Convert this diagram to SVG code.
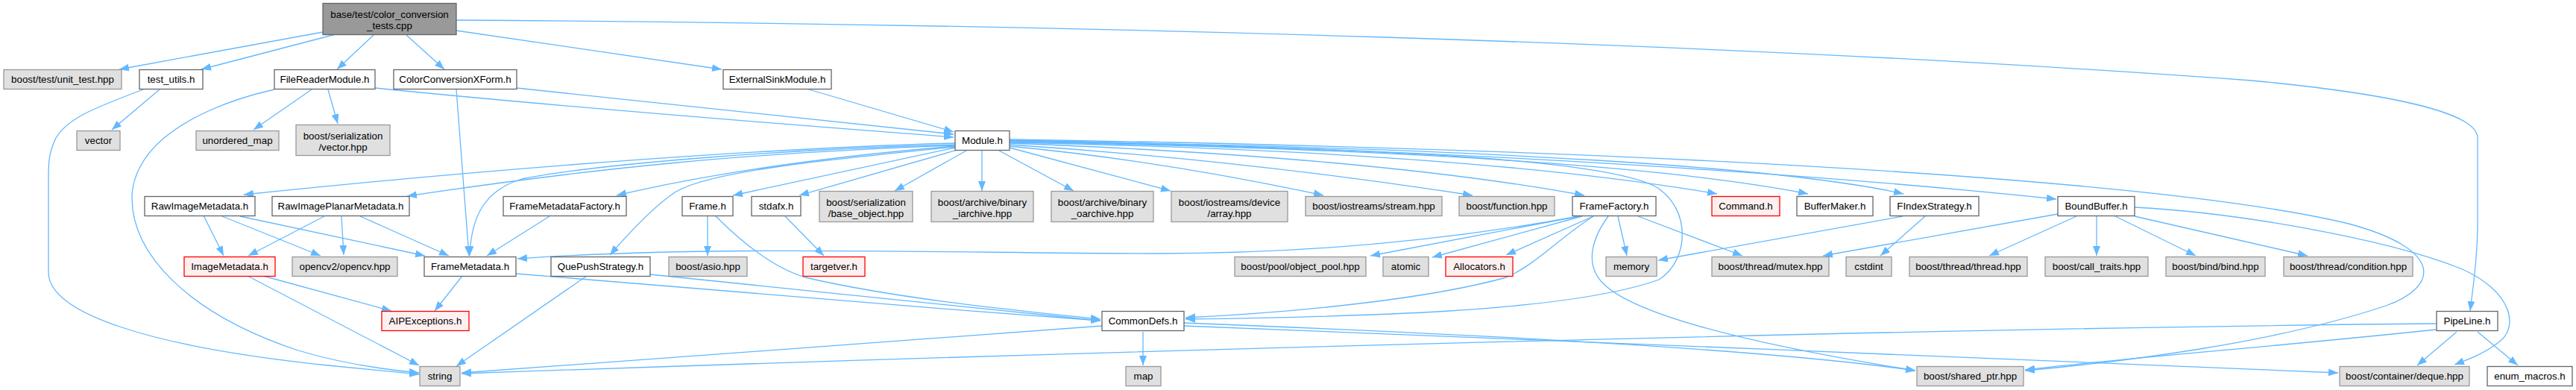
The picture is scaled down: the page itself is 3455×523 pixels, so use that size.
<svg xmlns="http://www.w3.org/2000/svg" width="3455" height="523" viewBox="0 0 3455 523">
<style>
.n{fill:#ffffff;stroke:#666666;stroke-width:1.3}
.g{fill:#e0e0e0;stroke:#999999;stroke-width:1.3}
.r{fill:#fff0f0;stroke:#ff0000;stroke-width:1.3}
.k{fill:#999999;stroke:#666666;stroke-width:1.3}
text{font-family:"Liberation Sans",Arial,Helvetica,sans-serif;font-size:13.33px;fill:#000;text-anchor:middle}
.e path{fill:none;stroke:#63b8ff;stroke-width:1.3;marker-end:url(#a)}
</style>
<defs>
<marker id="a" viewBox="0 0 13 10" refX="13" refY="5" markerWidth="13" markerHeight="10" markerUnits="userSpaceOnUse" orient="auto"><path d="M0,0L13,5L0,10z" fill="#63b8ff"/></marker>
</defs>
<rect width="3455" height="523" fill="#ffffff"/>
<g class="e" id="edges">
<path d="M433,43 L160,93"/>
<path d="M450,46 L270,93"/>
<path d="M501,47 L452,93"/>
<path d="M545,47 L596,93"/>
<path d="M612,41 L968,93"/>
<path d="M612,27 C1400,32 2300,55 3020,108 C3200,125 3323,150 3323,185 L3323,300 C3323,350 3316,390 3313,417"/>
<path d="M214,120 L150,174"/>
<path d="M192,120 C120,147 90,160 75,185 C65,205 65,220 65,240 L65,365 C65,420 200,465 440,490 C500,496 530,499 562,502"/>
<path d="M418,120 L340,174"/>
<path d="M440,120 L453,166"/>
<path d="M503,118 C800,148 1100,170 1279,184"/>
<path d="M368,120 C300,135 250,160 220,185 C190,210 177,240 177,265 C177,340 250,420 400,470 C460,488 520,496 562,500"/>
<path d="M693,118 L1279,180"/>
<path d="M612,120 L629,343"/>
<path d="M1085,120 L1279,177"/>
<path d="M1281,192 C1050,198 700,222 327,261"/>
<path d="M1281,194 C1050,200 800,220 700,240 C650,255 632,290 630,343"/>
<path d="M1281,195 C1000,205 800,225 546,263"/>
<path d="M1281,196 C1050,215 900,245 827,262"/>
<path d="M1281,197 C1100,215 950,230 905,258 C880,275 850,305 818,342"/>
<path d="M1281,198 L983,262"/>
<path d="M1284,201 L1072,262"/>
<path d="M1296,202 L1200,256"/>
<path d="M1317,202 L1317,256"/>
<path d="M1340,202 L1440,256"/>
<path d="M1354,198 L1570,256"/>
<path d="M1354,196 C1500,210 1650,235 1775,262"/>
<path d="M1354,194 C1600,210 1800,235 1975,262"/>
<path d="M1354,192 C1700,205 1950,230 2125,262"/>
<path d="M1354,191 C1800,200 2100,225 2303,260"/>
<path d="M1354,190 C1900,200 2250,225 2425,260"/>
<path d="M1354,189 C2000,198 2400,225 2553,260"/>
<path d="M1354,188 C2000,200 2500,240 2758,267"/>
<path d="M1354,187 C2200,200 2900,240 3150,300 C3280,335 3270,385 3200,410 C3050,460 2850,485 2716,497"/>
<path d="M1354,189 C1900,200 2150,215 2220,250 C2270,280 2265,350 2225,375 C2100,420 1800,425 1590,428"/>
<path d="M2137,290 C2090,320 2060,355 2020,372 C1920,400 1750,418 1590,426"/>
<path d="M2157,290 C2135,320 2125,355 2150,380 C2200,430 2400,470 2569,497"/>
<path d="M2118,290 C1900,330 1700,340 1550,340 C1300,340 950,328 694,347"/>
<path d="M2118,290 L1838,343"/>
<path d="M2122,290 L1921,345"/>
<path d="M2137,290 L2020,342"/>
<path d="M2170,290 L2182,343"/>
<path d="M2197,290 L2337,343"/>
<path d="M2552,290 L2224,349"/>
<path d="M2582,290 L2522,343"/>
<path d="M2760,287 L2445,343"/>
<path d="M2785,290 L2668,343"/>
<path d="M2812,290 L2812,343"/>
<path d="M2837,290 L2945,343"/>
<path d="M2863,290 L3095,343"/>
<path d="M2863,278 C3000,285 3200,320 3300,360 C3370,390 3380,440 3350,460 C3330,475 3310,482 3292,489"/>
<path d="M3295,445 L3242,490"/>
<path d="M3323,445 L3377,490"/>
<path d="M3267,442 C3050,465 2850,480 2716,496"/>
<path d="M3267,434 C2600,440 1500,470 619,501"/>
<path d="M1478,437 C1200,455 900,482 619,500"/>
<path d="M1533,445 L1533,490"/>
<path d="M1588,433 C1900,445 2350,465 2569,497"/>
<path d="M1588,437 C2000,455 2700,480 3136,500"/>
<path d="M960,290 C1000,330 1040,360 1080,372 C1200,400 1350,415 1476,428"/>
<path d="M692,367 C900,385 1200,410 1476,430"/>
<path d="M872,368 C1100,390 1300,412 1476,430"/>
<path d="M787,370 L612,491"/>
<path d="M620,370 L583,417"/>
<path d="M353,370 L525,417"/>
<path d="M332,370 L562,490"/>
<path d="M273,289 L300,343"/>
<path d="M298,290 L430,343"/>
<path d="M322,290 L570,343"/>
<path d="M435,290 L333,343"/>
<path d="M458,290 L461,342"/>
<path d="M483,290 L602,343"/>
<path d="M737,290 L653,343"/>
<path d="M949,290 L949,343"/>
<path d="M1053,290 L1105,343"/>
</g>
<g id="root"><rect class="k" x="433" y="4.5" width="179" height="42"/><text x="522.5" y="23.5">base/test/color_conversion</text><text x="522.5" y="38.5">_tests.cpp</text></g>
<g id="unit_test"><rect class="g" x="5" y="93.5" width="158" height="26"/><text x="84" y="111">boost/test/unit_test.hpp</text></g>
<g id="test_utils"><rect class="n" x="187" y="93.5" width="85" height="26"/><text x="229.5" y="111">test_utils.h</text></g>
<g id="FileReaderModule"><rect class="n" x="368" y="93.5" width="135" height="26"/><text x="435.5" y="111">FileReaderModule.h</text></g>
<g id="ColorConversionXForm"><rect class="n" x="528" y="93.5" width="165" height="26"/><text x="610.5" y="111">ColorConversionXForm.h</text></g>
<g id="ExternalSinkModule"><rect class="n" x="970" y="93.5" width="145" height="26"/><text x="1042.5" y="111">ExternalSinkModule.h</text></g>
<g id="vector"><rect class="g" x="103" y="175.5" width="58" height="26"/><text x="132" y="193">vector</text></g>
<g id="unordered_map"><rect class="g" x="263" y="175.5" width="111" height="26"/><text x="318.5" y="193">unordered_map</text></g>
<g id="ser_vector"><rect class="g" x="397" y="167.5" width="126" height="41"/><text x="460" y="186.5">boost/serialization</text><text x="460" y="201.5">/vector.hpp</text></g>
<g id="Module"><rect class="n" x="1281" y="175.5" width="73" height="26"/><text x="1317.5" y="193">Module.h</text></g>
<g id="RawImageMetadata"><rect class="n" x="194" y="263.5" width="148" height="26"/><text x="268" y="281">RawImageMetadata.h</text></g>
<g id="RawImagePlanarMetadata"><rect class="n" x="365" y="263.5" width="184" height="26"/><text x="457" y="281">RawImagePlanarMetadata.h</text></g>
<g id="FrameMetadataFactory"><rect class="n" x="675" y="263.5" width="165" height="26"/><text x="757.5" y="281">FrameMetadataFactory.h</text></g>
<g id="Frame"><rect class="n" x="915" y="263.5" width="68" height="26"/><text x="949" y="281">Frame.h</text></g>
<g id="stdafx"><rect class="n" x="1008" y="263.5" width="66" height="26"/><text x="1041" y="281">stdafx.h</text></g>
<g id="base_object"><rect class="g" x="1099" y="256.5" width="125" height="41"/><text x="1161.5" y="275.5">boost/serialization</text><text x="1161.5" y="290.5">/base_object.hpp</text></g>
<g id="binary_iarchive"><rect class="g" x="1249" y="256.5" width="137" height="41"/><text x="1317.5" y="275.5">boost/archive/binary</text><text x="1317.5" y="290.5">_iarchive.hpp</text></g>
<g id="binary_oarchive"><rect class="g" x="1410" y="256.5" width="137" height="41"/><text x="1478.5" y="275.5">boost/archive/binary</text><text x="1478.5" y="290.5">_oarchive.hpp</text></g>
<g id="device_array"><rect class="g" x="1571" y="256.5" width="156" height="41"/><text x="1649" y="275.5">boost/iostreams/device</text><text x="1649" y="290.5">/array.hpp</text></g>
<g id="stream"><rect class="g" x="1751" y="263.5" width="183" height="26"/><text x="1842.5" y="281">boost/iostreams/stream.hpp</text></g>
<g id="function"><rect class="g" x="1957" y="263.5" width="128" height="26"/><text x="2021" y="281">boost/function.hpp</text></g>
<g id="FrameFactory"><rect class="n" x="2109" y="263.5" width="112" height="26"/><text x="2165" y="281">FrameFactory.h</text></g>
<g id="Command"><rect class="r" x="2296" y="263.5" width="91" height="26"/><text x="2341.5" y="281">Command.h</text></g>
<g id="BufferMaker"><rect class="n" x="2410" y="263.5" width="102" height="26"/><text x="2461" y="281">BufferMaker.h</text></g>
<g id="FIndexStrategy"><rect class="n" x="2535" y="263.5" width="119" height="26"/><text x="2594.5" y="281">FIndexStrategy.h</text></g>
<g id="BoundBuffer"><rect class="n" x="2760" y="263.5" width="103" height="26"/><text x="2811.5" y="281">BoundBuffer.h</text></g>
<g id="ImageMetadata"><rect class="r" x="247" y="344.5" width="122" height="26"/><text x="308" y="362">ImageMetadata.h</text></g>
<g id="opencv"><rect class="g" x="392" y="344.5" width="141" height="26"/><text x="462.5" y="362">opencv2/opencv.hpp</text></g>
<g id="FrameMetadata"><rect class="n" x="569" y="344.5" width="123" height="26"/><text x="630.5" y="362">FrameMetadata.h</text></g>
<g id="QuePushStrategy"><rect class="n" x="739" y="344.5" width="133" height="26"/><text x="805.5" y="362">QuePushStrategy.h</text></g>
<g id="asio"><rect class="g" x="897" y="344.5" width="105" height="26"/><text x="949.5" y="362">boost/asio.hpp</text></g>
<g id="targetver"><rect class="r" x="1077" y="344.5" width="83" height="26"/><text x="1118.5" y="362">targetver.h</text></g>
<g id="object_pool"><rect class="g" x="1656" y="344.5" width="176" height="26"/><text x="1744" y="362">boost/pool/object_pool.hpp</text></g>
<g id="atomic"><rect class="g" x="1855" y="344.5" width="61" height="26"/><text x="1885.5" y="362">atomic</text></g>
<g id="Allocators"><rect class="r" x="1939" y="344.5" width="90" height="26"/><text x="1984" y="362">Allocators.h</text></g>
<g id="memory"><rect class="g" x="2154" y="344.5" width="68" height="26"/><text x="2188" y="362">memory</text></g>
<g id="mutex"><rect class="g" x="2296" y="344.5" width="157" height="26"/><text x="2374.5" y="362">boost/thread/mutex.hpp</text></g>
<g id="cstdint"><rect class="g" x="2476" y="344.5" width="61" height="26"/><text x="2506.5" y="362">cstdint</text></g>
<g id="thread"><rect class="g" x="2561" y="344.5" width="158" height="26"/><text x="2640" y="362">boost/thread/thread.hpp</text></g>
<g id="call_traits"><rect class="g" x="2743" y="344.5" width="138" height="26"/><text x="2812" y="362">boost/call_traits.hpp</text></g>
<g id="bind"><rect class="g" x="2905" y="344.5" width="133" height="26"/><text x="2971.5" y="362">boost/bind/bind.hpp</text></g>
<g id="condition"><rect class="g" x="3063" y="344.5" width="173" height="26"/><text x="3149.5" y="362">boost/thread/condition.hpp</text></g>
<g id="AIPExceptions"><rect class="r" x="512" y="417.5" width="117" height="26"/><text x="570.5" y="435">AIPExceptions.h</text></g>
<g id="CommonDefs"><rect class="n" x="1478" y="417.5" width="110" height="26"/><text x="1533" y="435">CommonDefs.h</text></g>
<g id="PipeLine"><rect class="n" x="3268" y="417.5" width="82" height="26"/><text x="3309" y="435">PipeLine.h</text></g>
<g id="string"><rect class="g" x="563" y="491.5" width="54" height="26"/><text x="590" y="509">string</text></g>
<g id="map"><rect class="g" x="1510" y="491.5" width="47" height="26"/><text x="1533.5" y="509">map</text></g>
<g id="shared_ptr"><rect class="g" x="2571" y="491.5" width="143" height="26"/><text x="2642.5" y="509">boost/shared_ptr.hpp</text></g>
<g id="deque"><rect class="g" x="3138" y="491.5" width="174" height="26"/><text x="3225" y="509">boost/container/deque.hpp</text></g>
<g id="enum_macros"><rect class="n" x="3336" y="491.5" width="114" height="26"/><text x="3393" y="509">enum_macros.h</text></g>
</svg>
